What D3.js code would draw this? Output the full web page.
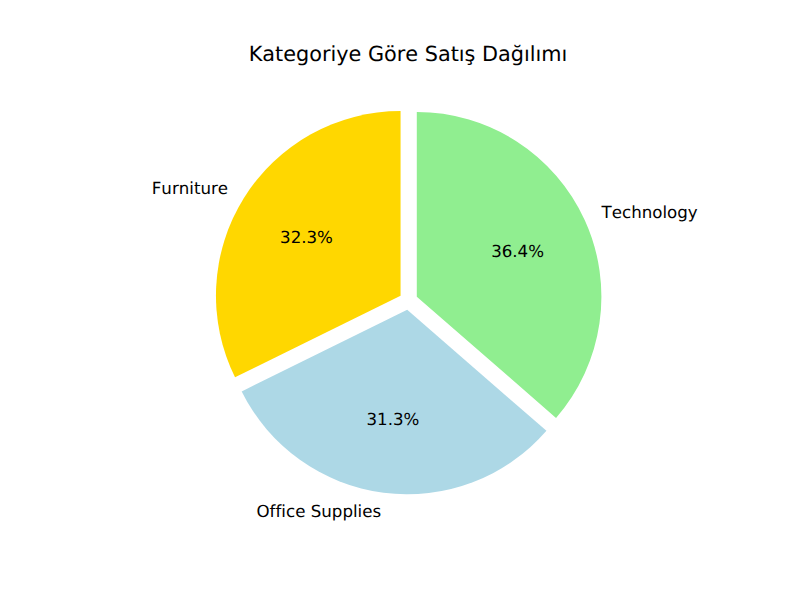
<!DOCTYPE html>
<html lang="tr">
  <head>
    <meta charset="UTF-8" />
    <title>Kategoriye Göre Satış Dağılımı</title>
    <style>
      body { margin: 0; background: #fff; }
      text {
        font-family: "DejaVu Sans", sans-serif;
        fill: #000;
        text-rendering: geometricPrecision;
        font-variant-ligatures: none;
        font-kerning: none;
      }
    </style>
  </head>
  <body>
    <svg id="svg" width="797" height="595"></svg>

    <script src="https://cdn.jsdelivr.net/npm/d3@7"></script>
    <script>
      const categories = ["Furniture", "Office Supplies", "Technology"];
      const shares = [32.3, 31.3, 36.4];
      const colors = ["#ffd700", "#add8e6", "#90ee90"];
      const title = "Kategoriye Göre Satış Dağılımı";

      const data = categories.map((c, i) => ({ name: c, value: shares[i], color: colors[i] }));

      const cx = 408.4, cy = 300.5, r = 184.6;
      const explode = 0.05 * r;

      const svg = d3.select("#svg");

      svg.append("text")
        .attr("x", 408)
        .attr("y", 61)
        .attr("text-anchor", "middle")
        .style("font-size", "20.8px")
        .text(title);

      // matplotlib style: start at 12 o'clock, go counterclockwise
      const pie = d3.pie().sort(null).value((d) => d.value)
        .startAngle(0).endAngle(-2 * Math.PI);
      const arcs = pie(data);
      const arc = d3.arc().innerRadius(0).outerRadius(r);
      const total = d3.sum(data, (d) => d.value);

      const dir = (d) => {
        const a = (d.startAngle + d.endAngle) / 2;
        return [Math.sin(a), -Math.cos(a)];
      };

      const g = svg.append("g").attr("transform", `translate(${cx},${cy})`);

      const slice = g.selectAll("g.slice")
        .data(arcs)
        .enter()
        .append("g")
        .attr("class", "slice")
        .attr("transform", (d) => {
          const [dx, dy] = dir(d);
          return `translate(${dx * explode},${dy * explode})`;
        });

      slice.append("path")
        .attr("d", arc)
        .attr("fill", (d) => d.data.color);

      // percentage labels
      slice.append("text")
        .attr("x", (d) => dir(d)[0] * 0.6 * r)
        .attr("y", (d) => dir(d)[1] * 0.6 * r)
        .attr("dy", "0.35em")
        .attr("text-anchor", "middle")
        .style("font-size", "16.67px")
        .text((d) => (d.data.value / total * 100).toFixed(1) + "%");

      // category labels
      slice.append("text")
        .attr("x", (d) => dir(d)[0] * 1.1 * r)
        .attr("y", (d) => dir(d)[1] * 1.1 * r)
        .attr("dy", "0.35em")
        .attr("text-anchor", (d) => (dir(d)[0] > 0 ? "start" : "end"))
        .style("font-size", "16.67px")
        .text((d) => d.data.name);
    </script>
  </body>
</html>
